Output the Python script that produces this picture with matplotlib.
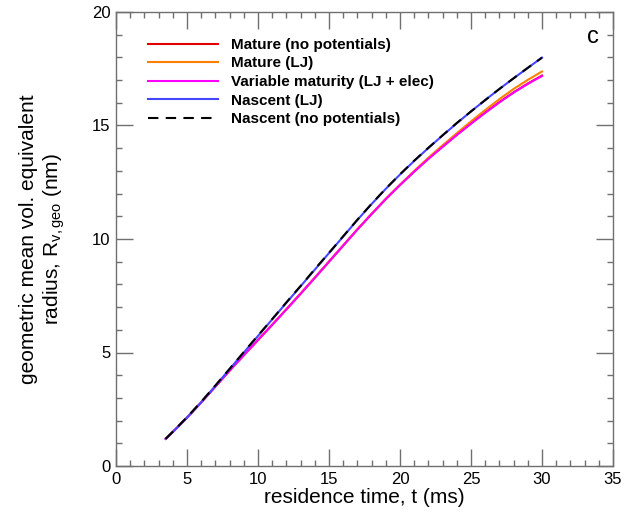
import matplotlib
matplotlib.use("Agg")
import matplotlib.pyplot as plt
from matplotlib.ticker import MultipleLocator

plt.rcParams['font.family'] = ['Liberation Sans', 'DejaVu Sans']
plt.rcParams['mathtext.fontset'] = 'custom'
plt.rcParams['mathtext.rm'] = 'Liberation Sans'
plt.rcParams['mathtext.it'] = 'Liberation Sans'

# residence time (ms)
t = [3.5, 4, 5, 6, 7, 8, 9, 10, 11, 12, 13, 14, 15, 16, 17, 18, 19, 20,
     21, 22, 23, 24, 25, 26, 27, 28, 29, 30]
nascent_lj = [1.20, 1.50, 2.13, 2.81, 3.53, 4.27, 5.00, 5.73, 6.46, 7.19, 7.92, 8.65, 9.38, 10.11,
              10.84, 11.54, 12.21, 12.84, 13.44, 14.01, 14.56, 15.10, 15.62, 16.12, 16.61, 17.08,
              17.54, 17.99]
nascent_nopot = [1.20, 1.51, 2.15, 2.83, 3.55, 4.28, 5.02, 5.75, 6.47, 7.21, 7.93, 8.67, 9.39, 10.12,
                 10.85, 11.55, 12.22, 12.85, 13.45, 14.02, 14.57, 15.11, 15.62, 16.12, 16.61, 17.08,
                 17.54, 17.99]
variable_lj_elec = [1.20, 1.50, 2.13, 2.80, 3.50, 4.20, 4.88, 5.55, 6.22, 6.90, 7.59, 8.29, 9.00, 9.71,
                    10.42, 11.10, 11.76, 12.38, 12.97, 13.53, 14.06, 14.58, 15.08, 15.56, 16.02, 16.45,
                    16.83, 17.18]
mature_lj = [1.20, 1.50, 2.13, 2.80, 3.51, 4.21, 4.89, 5.56, 6.23, 6.91, 7.60, 8.30, 9.01, 9.72,
             10.43, 11.11, 11.77, 12.39, 13.00, 13.58, 14.13, 14.66, 15.18, 15.68, 16.16, 16.61,
             17.01, 17.38]
mature_nopot = [1.20, 1.50, 2.13, 2.80, 3.50, 4.20, 4.88, 5.55, 6.22, 6.90, 7.59, 8.29, 9.00, 9.71,
                10.42, 11.10, 11.76, 12.38, 12.97, 13.54, 14.07, 14.59, 15.09, 15.57, 16.03, 16.46,
                16.85, 17.20]

labels = ["Mature (no potentials)", "Mature (LJ)", "Variable maturity (LJ + elec)",
          "Nascent (LJ)", "Nascent (no potentials)"]

fig = plt.figure(figsize=(6.28, 5.13), dpi=100)
ax = fig.add_axes([116/628, 47/513, (613-116)/628, (466-12)/513])

lw = 1.5
ax.plot(t, mature_nopot, color='#e00000', lw=lw, label=labels[0])
ax.plot(t, mature_lj, color='#ff8000', lw=lw, label=labels[1])
ax.plot(t, variable_lj_elec, color='#ff00ff', lw=lw, label=labels[2])
ax.plot(t, nascent_lj, color='#4545ff', lw=lw, label=labels[3])
ax.plot(t, nascent_nopot, color='black', lw=lw, linestyle=(0, (5, 3.5)), label=labels[4])

ax.set_xlim(0, 35)
ax.set_ylim(0, 20)
ax.xaxis.set_major_locator(MultipleLocator(5))
ax.xaxis.set_minor_locator(MultipleLocator(1))
ax.yaxis.set_major_locator(MultipleLocator(5))
ax.yaxis.set_minor_locator(MultipleLocator(1))

spine_col = '#707070'
for s in ax.spines.values():
    s.set_color(spine_col)
    s.set_linewidth(1.0)
ax.tick_params(which='both', direction='in', top=True, right=True, color=spine_col,
               labelsize=12, labelcolor='black')
ax.tick_params(which='major', length=12, width=1.0, pad=4)
ax.tick_params(which='minor', length=4.5, width=1.0)

ax.set_xlabel("residence time, t (ms)", fontsize=15, labelpad=1)
ax.set_ylabel("geometric mean vol. equivalent\nradius, R$_{v,geo}$ (nm)", fontsize=15)
ax.yaxis.set_label_coords(-0.099, 0.5)

leg = ax.legend(loc='upper left', bbox_to_anchor=(0.0644, 0.943), frameon=False,
                prop={'weight': 'bold', 'size': 11}, handlelength=4.6,
                handletextpad=0.8, labelspacing=0.3, borderpad=0, borderaxespad=0)

ax.text(0.96, 0.944, "c", transform=ax.transAxes, fontsize=17, ha='center', va='center')

fig.savefig("out.png", dpi=100)
